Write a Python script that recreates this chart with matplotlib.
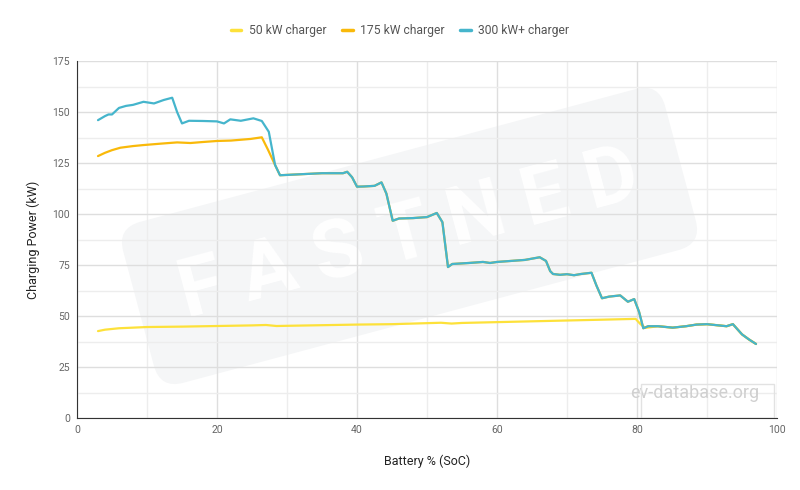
import matplotlib
matplotlib.use("Agg")
import matplotlib.pyplot as plt
from matplotlib.patches import Rectangle

plt.rcParams['font.family'] = ['Roboto', 'DejaVu Sans']

# 300 kW+ charger curve (SoC %, kW)
soc_300 = [3, 4, 4.5, 5, 6, 7, 8, 9.5, 11, 12.4, 13.6, 14.3, 15, 16, 18, 20, 21, 21.9,
           23.4, 25.2, 26.4, 27.4, 28.3, 29, 32, 35, 38, 38.6, 39.3, 40, 41, 42.5, 43.5,
           44.2, 45.1, 46, 48, 50, 51.4, 52.2, 53, 53.6, 56, 58, 59, 60, 62, 64, 66.1,
           67, 67.6, 68, 69, 70, 71, 72, 73.5, 74.2, 75, 76, 77.6, 78.7, 79.6, 80.3, 80.9,
           81.6, 83, 85.1, 87, 88.5, 90, 92.8, 93.7, 95, 96, 97]
kw_300 = [146, 148, 148.8, 148.8, 152, 153, 153.5, 155, 154.2, 155.9, 157, 150, 144.4,
          145.7, 145.6, 145.4, 144.4, 146.4, 145.7, 146.9, 145.6, 140.3, 124, 119, 119.5,
          120, 120, 120.7, 118, 113.4, 113.5, 113.8, 115.5, 110, 96.7, 97.8, 98, 98.5,
          100.5, 96, 74, 75.5, 76, 76.5, 76, 76.5, 77, 77.5, 78.8, 77, 72, 70.6, 70.2,
          70.5, 70, 70.6, 71.2, 65, 58.7, 59.5, 60.1, 57, 58.3, 52, 44, 45, 45, 44.3, 45,
          45.8, 46, 45, 46, 41, 38.5, 36.3]

# 175 kW charger curve (merges with the 300 kW curve after ~28 %)
soc_175 = [3, 4, 5, 6.2, 8, 9.5, 12, 14.3, 16.2, 18, 20, 22, 24.8, 26.4, 27.3, 28.3,
           29, 32, 35, 38, 38.6, 39.3, 40, 41, 42.5, 43.5, 44.2, 45.1, 46, 48, 50, 51.4,
           52.2, 53, 53.6, 56, 58, 59, 60, 62, 64, 66.1, 67, 67.6, 68, 69, 70, 71, 72,
           73.5, 74.2, 75, 76, 77.6, 78.7, 79.6, 80.3, 80.9, 81.6, 83, 85.1, 87, 88.5, 90,
           92.8, 93.7, 95, 96, 97]
kw_175 = [128.4, 130, 131.3, 132.5, 133.3, 133.8, 134.5, 135.1, 134.8, 135.3, 135.8,
          136, 136.8, 137.6, 131.4, 124, 119, 119.5, 120, 120, 120.7, 118, 113.4, 113.5,
          113.8, 115.5, 110, 96.7, 97.8, 98, 98.5, 100.5, 96, 74, 75.5, 76, 76.5, 76,
          76.5, 77, 77.5, 78.8, 77, 72, 70.6, 70.2, 70.5, 70, 70.6, 71.2, 65, 58.7, 59.5,
          60.1, 57, 58.3, 52, 44, 45, 45, 44.3, 45, 45.8, 46, 45, 46, 41, 38.5, 36.3]

# 50 kW charger curve
soc_50 = [3, 4, 6, 8, 10, 15, 20, 25, 27, 28.5, 30, 35, 40, 45, 50, 52, 53.5, 55, 60,
          65, 70, 75, 79.8, 80.5, 81.2, 83, 85.1, 87, 88.5, 90, 92.8, 93.7, 95, 96, 97]
kw_50 = [42.6, 43.3, 44, 44.3, 44.6, 44.8, 45.1, 45.4, 45.6, 45.1, 45.2, 45.5, 45.8, 46,
         46.5, 46.7, 46.3, 46.6, 47, 47.4, 47.8, 48.2, 48.6, 46, 44.2, 45, 44.3, 45, 45.8,
         46, 45, 46, 41, 38.5, 36.3]

labels = ['50 kW charger', '175 kW charger', '300 kW+ charger']
colors = ['#fde13a', '#f9b90a', '#45b5cc']

fig = plt.figure(figsize=(8, 4.9), dpi=100)
ax = fig.add_axes([0.09625, 0.1469, 0.875, 0.7286])

# watermark
ax.text(0.475, 0.51, 'F A S T N E D', transform=ax.transAxes, rotation=15,
        ha='center', va='center', fontsize=58, color='white', fontweight='bold',
        zorder=0.1,
        bbox=dict(boxstyle='round,pad=0.55,rounding_size=0.3', fc='#f5f6f7', ec='none'))

ax.text(0.975, 0.045, 'ev-database.org', transform=ax.transAxes, ha='right',
        va='bottom', fontsize=13, color='#d0d0d0', zorder=2)
ax.add_patch(Rectangle((0.805, 0.0), 0.19, 0.095, transform=ax.transAxes, fill=False,
                       ec='#e2e2e2', lw=1, zorder=2))

kw = dict(lw=1.6, solid_joinstyle='round', solid_capstyle='round')
ax.plot(soc_50, kw_50, color=colors[0], label=labels[0], zorder=3, **kw)
ax.plot(soc_175, kw_175, color=colors[1], label=labels[1], zorder=4, **kw)
ax.plot(soc_300, kw_300, color=colors[2], label=labels[2], zorder=5, **kw)

ax.set_xlim(0, 100)
ax.set_ylim(0, 175)
ax.set_xticks(range(0, 101, 20))
ax.set_yticks(range(0, 176, 25))
ax.set_xticks(range(10, 100, 20), minor=True)
ax.set_yticks([12.5 + 25 * i for i in range(7)], minor=True)
ax.grid(which='major', color='#dedede', lw=1, zorder=0.5)
ax.grid(which='minor', color='#ededed', lw=1, zorder=0.5)
ax.set_axisbelow(True)

for s in ['top', 'right']:
    ax.spines[s].set_visible(False)
ax.spines['left'].set_color('#333333')
ax.spines['bottom'].set_color('#333333')
ax.tick_params(which='both', length=0, labelsize=7.5, labelcolor='#666666', pad=5)

ax.set_xlabel('Battery % (SoC)', fontsize=9, color='#222222', labelpad=14)
ax.set_ylabel('Charging Power (kW)', fontsize=9, color='#222222', labelpad=9)

handles, _ = ax.get_legend_handles_labels()
leg = fig.legend(handles, labels, loc='center', bbox_to_anchor=(0.5, 0.937), ncol=3,
                 frameon=False, fontsize=8.7, handlelength=0.9, handletextpad=0.6,
                 columnspacing=1.3)
for line in leg.get_lines():
    line.set_linewidth(2.5)
for t in leg.get_texts():
    t.set_color('#555555')

fig.savefig('out.png', dpi=100)
